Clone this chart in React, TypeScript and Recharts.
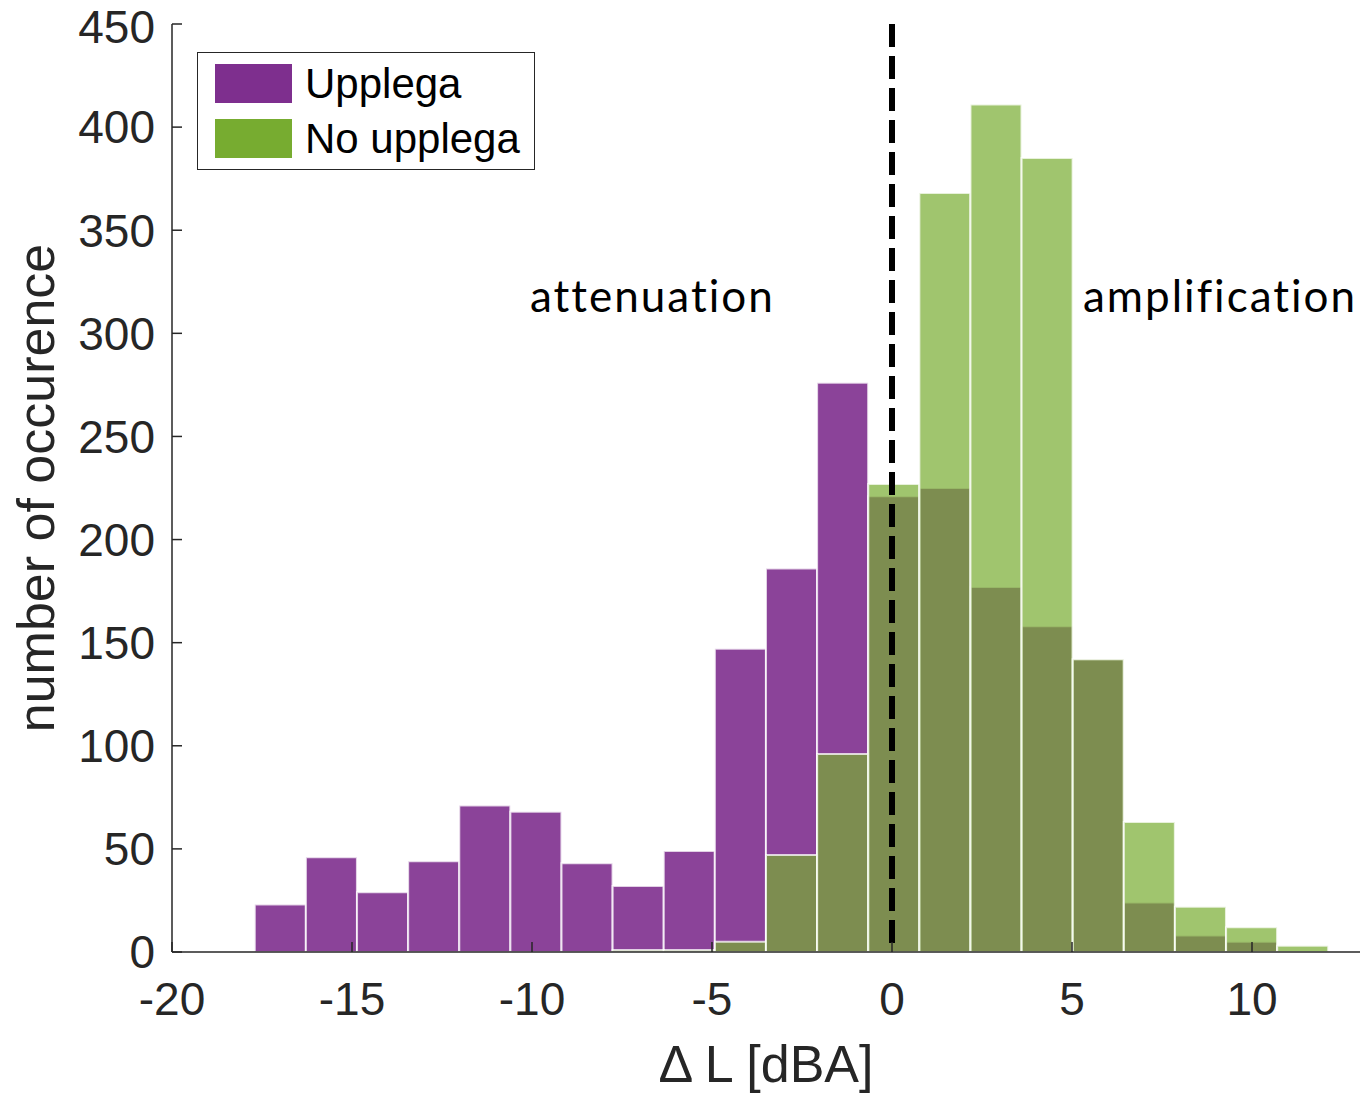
import React from 'react';
import { ComposedChart, Bar, XAxis, YAxis, ReferenceLine, Legend, Label } from 'recharts';

// histogram bin centres (dBA), bin width ~1.42
const binCenters = [
  -16.99, -15.57, -14.15, -12.73, -11.31, -9.89, -8.47, -7.05, -5.63, -4.21, -2.79,
  -1.37, 0.05, 1.47, 2.89, 4.31, 5.73, 7.15, 8.57, 9.99, 11.41,
];
const upplega = [23, 46, 29, 44, 71, 68, 43, 32, 49, 147, 186, 276, 221, 225, 177, 158, 142, 24, 8, 5, 0];
const noUpplega = [0, 0, 0, 0, 0, 0, 0, 1, 1, 5, 47, 96, 227, 368, 411, 385, 142, 63, 22, 12, 3];

const xTicks = [-20, -15, -10, -5, 0, 5, 10];
const yTicks = [0, 50, 100, 150, 200, 250, 300, 350, 400, 450];

const PURPLE = '#7E2F8E';
const GREEN = '#77AC30';
const AXIS = '#262626';

const rows = binCenters.map((x, i) => ({ x, upplega: upplega[i], noUpplega: noUpplega[i] }));

const legendItems = [
  { name: 'Upplega', color: PURPLE },
  { name: 'No upplega', color: GREEN },
];

const tickStyle = { fill: AXIS, fontSize: 46 };

const renderLegend = () => (
  <div
    style={{
      boxSizing: 'border-box',
      width: 338,
      height: 118,
      border: `1.5px solid ${AXIS}`,
      background: '#fff',
      padding: '11px 0 0 17px',
    }}
  >
    {legendItems.map((it) => (
      <div key={it.name} style={{ display: 'flex', alignItems: 'center', height: 39, marginBottom: 16 }}>
        <div style={{ width: 77, height: 39, background: it.color }} />
        <span style={{ marginLeft: 13, fontSize: 42, lineHeight: '39px', color: '#000' }}>{it.name}</span>
      </div>
    ))}
  </div>
);

const YTitle = (props: any) => {
  const vb = props.viewBox;
  const cx = vb.x + 36;
  const cy = vb.y + vb.height / 2;
  return (
    <text
      x={cx}
      y={cy}
      transform={`rotate(-90 ${cx} ${cy})`}
      textAnchor="middle"
      dominantBaseline="central"
      fontSize={52}
      fill={AXIS}
    >
      number of occurence
    </text>
  );
};

const noText = () => '';

const noteStyle: React.CSSProperties = {
  position: 'absolute',
  top: 273,
  fontFamily: 'Lato, sans-serif',
  fontSize: 44,
  lineHeight: 1,
  letterSpacing: 2,
  color: '#000',
  whiteSpace: 'nowrap',
};

export default function App() {
  return (
    <div
      style={{
        position: 'absolute',
        left: 0,
        top: 0,
        width: 1363,
        height: 1093,
        background: '#fff',
        fontFamily: '"Liberation Sans", Arial, sans-serif',
      }}
    >
      <ComposedChart
        width={1363}
        height={1093}
        data={rows}
        margin={{ top: 24, right: 3, left: 0, bottom: 0 }}
        barCategoryGap={0}
        barGap={0}
      >
        <XAxis
          xAxisId="b"
          dataKey="x"
          type="number"
          domain={[-20, 13]}
          ticks={xTicks}
          height={141}
          stroke={AXIS}
          strokeWidth={1.5}
          tick={tickStyle}
          tickSize={-10}
          tickMargin={40}
        >
          <Label value="Δ L [dBA]" position="insideBottom" offset={11} fontSize={52} fill={AXIS} />
        </XAxis>
        <XAxis
          xAxisId="t"
          orientation="top"
          dataKey="x"
          type="number"
          domain={[-20, 13]}
          ticks={xTicks}
          height={0}
          stroke={AXIS}
          strokeWidth={1.5}
          tickFormatter={noText}
          tickSize={-10}
        />
        <YAxis
          yAxisId="l"
          domain={[0, 450]}
          ticks={yTicks}
          width={172}
          stroke={AXIS}
          strokeWidth={1.5}
          tick={tickStyle}
          tickSize={-10}
          tickMargin={27}
        >
          <Label content={YTitle} />
        </YAxis>
        <YAxis
          yAxisId="r"
          orientation="right"
          domain={[0, 450]}
          ticks={yTicks}
          width={0}
          stroke={AXIS}
          strokeWidth={1.5}
          tickFormatter={noText}
          tickSize={-10}
        />
        <Bar
          xAxisId="b"
          yAxisId="l"
          dataKey="upplega"
          name="Upplega"
          fill={PURPLE}
          fillOpacity={0.9}
          stroke="#ffffff"
          strokeOpacity={0.75}
          strokeWidth={2}
          isAnimationActive={false}
        />
        <Bar
          xAxisId="t"
          yAxisId="l"
          dataKey="noUpplega"
          name="No upplega"
          fill={GREEN}
          fillOpacity={0.7}
          stroke="#ffffff"
          strokeOpacity={0.75}
          strokeWidth={2}
          isAnimationActive={false}
        />
        <ReferenceLine
          xAxisId="b"
          yAxisId="l"
          x={0}
          stroke="#000"
          strokeWidth={6}
          strokeDasharray="23 9"
          strokeDashoffset={23}
        />
        <Legend
          layout="vertical"
          align="center"
          verticalAlign="middle"
          content={renderLegend}
          wrapperStyle={{ left: 197, top: 52, width: 'auto' }}
        />
      </ComposedChart>
      <div style={{ ...noteStyle, left: 530 }}>attenuation</div>
      <div style={{ ...noteStyle, left: 1083 }}>amplification</div>
    </div>
  );
}
